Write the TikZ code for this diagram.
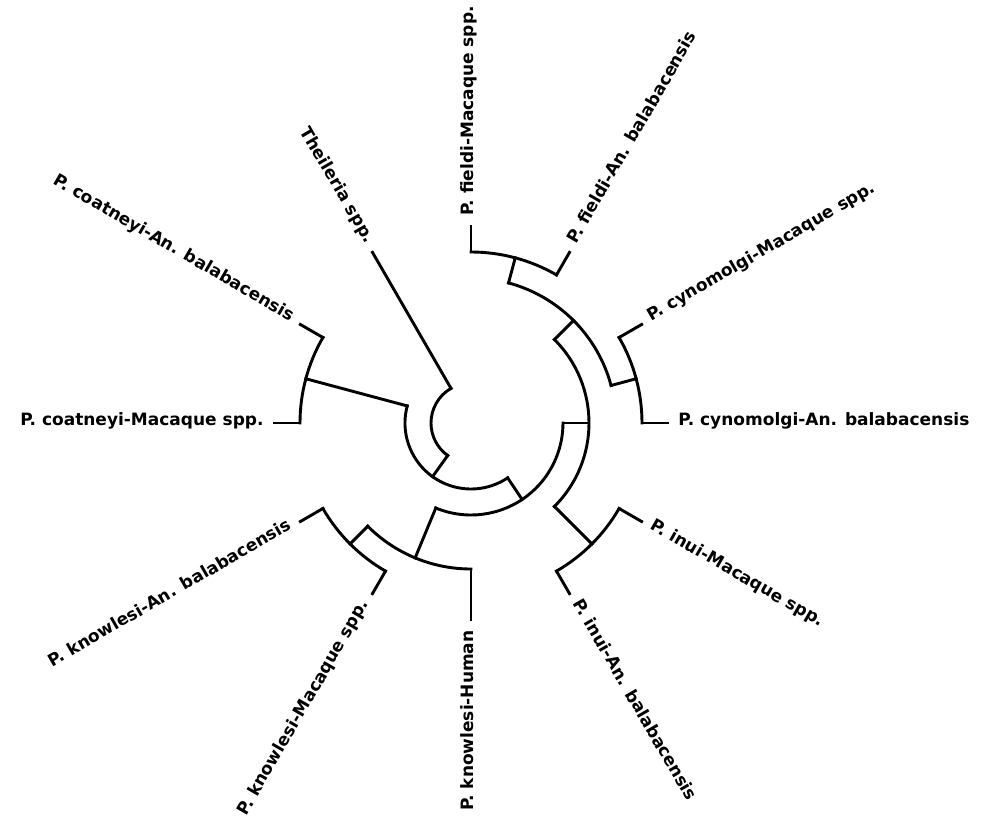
\documentclass[tikz,border=0pt]{standalone}
\usepackage{fontspec}
\newfontfamily\taxafont{DejaVu Sans}
\usepackage{tikz}

\begin{document}
\begin{tikzpicture}[x=1pt,y=1pt,line width=2.9pt,line cap=rect,
                    leaf/.style={font=\taxafont\bfseries\fontsize{17}{20}\selectfont,
                                 inner xsep=9pt,inner ysep=0pt}]

  \useasboundingbox (-471,-399) rectangle (513,423);

  % leaves: name/angle/branch radius/rotation/anchor/label
  \foreach \n/\a/\r/\rot/\anc/\txt in {
      cynA/0/171/0/west/{P. cynomolgi-An. balabacensis},
      cynM/30/171/30/west/{P. cynomolgi-Macaque spp.},
      fieA/60/171/60/west/{P. fieldi-An. balabacensis},
      fieM/90/171/90/west/{P. fieldi-Macaque spp.},
      the/120/40/-60/east/{Theileria spp.},
      coaA/150/171/-30/east/{P. coatneyi-An. balabacensis},
      coaM/180/171/0/east/{P. coatneyi-Macaque spp.},
      knoA/210/171/30/east/{P. knowlesi-An. balabacensis},
      knoM/240/171/60/east/{P. knowlesi-Macaque spp.},
      knoH/270/146/90/east/{P. knowlesi-Human},
      inuA/300/171/-60/west/{P. inui-An. balabacensis},
      inuM/330/171/-30/west/{P. inui-Macaque spp.}}
  {
    \node[leaf,rotate=\rot,anchor=mid \anc] (\n) at (\a:197) {\txt};
    \coordinate (\n-b) at (\a:\r);
    \draw (\n-b) -- (\n.mid \anc);
  }

  % inner branches: name/angle/radius/parent radius
  \foreach \n/\a/\r/\p in {cyn/15/171/145, fie/75/171/145, fc/45/145/118,
      inu/315/171/118, fci/0/118/92, knoAM/225/171/146, kno/247.5/146/92,
      big/303.75/92/66, coa/165/171/66, ing/234.375/66/40}
  {
    \coordinate (\n) at (\a:\r);
    \coordinate (\n-p) at (\a:\p);
    \draw (\n) -- (\n-p);
  }

  % arcs: first child/start/end/radius
  \foreach \f/\s/\e/\r in {cynA-b/0/30/171, fieA-b/60/90/171, cyn-p/15/75/145,
      inuA-b/300/330/171, inu-p/315/405/118, knoA-b/210/240/171,
      knoAM-p/225/270/146, kno-p/247.5/360/92, coaA-b/150/180/171,
      coa-p/165/303.75/66, the-b/120/234.375/40}
    \draw (\f) arc[start angle=\s,end angle=\e,radius=\r];
\end{tikzpicture}
\end{document}
